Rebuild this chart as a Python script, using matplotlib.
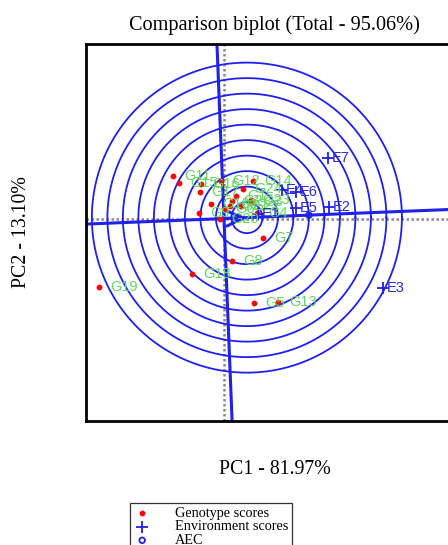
import numpy as np
import matplotlib.pyplot as plt

# genotype scores (PC1, PC2)
genotypes = ['G1', 'G2', 'G3', 'G4', 'G5', 'G6', 'G7', 'G8', 'G9', 'G10', 'G11', 'G12',
             'G13', 'G14', 'G15', 'G16', 'G17', 'G18', 'G19', 'G20', 'G21', 'G22', 'G23', 'G24']
g_pc1 = [0.39, 0.26, 0.90, 1.06, 0.97, 0.00, 1.26, 0.26, -0.81, -0.42, -1.65, -0.10,
         1.74, 0.94, -1.45, -0.74, -0.77, -1.03, -4.03, -0.13, 0.19, 0.55, 0.87, 0.61]
g_pc2 = [0.73, 0.56, 0.53, 0.18, -2.73, 0.31, -0.63, -1.37, 0.18, 0.47, 1.37, 1.21,
         -2.69, 1.21, 1.15, 1.11, 0.85, -1.79, -2.21, -0.02, 0.40, 0.40, 0.60, 0.95]

# environment scores
environments = ['E1', 'E2', 'E3', 'E4', 'E5', 'E6', 'E7']
e_pc1 = [1.10, 3.39, 5.13, 1.87, 2.32, 2.32, 3.35]
e_pc2 = [0.15, 0.37, -2.24, 0.92, 0.34, 0.85, 1.95]

# average environment coordinate and ideal genotype distance
aec = (2.74, 0.11)
ideal_dist = 0.74
ring_step = 0.5
n_rings = 10

blue = '#1f1fee'
plt.rcParams['font.family'] = ['Liberation Serif', 'DejaVu Serif']

fig = plt.figure(figsize=(4.48, 5.45), dpi=100)
ax = fig.add_axes([86 / 448, 124 / 545, 377 / 448, 377 / 545])
ax.set_xlim(-4.45, 7.71)
ax.set_ylim(-6.53, 5.63)
ax.set_aspect('equal')
ax.set_xticks([])
ax.set_yticks([])
for s in ax.spines.values():
    s.set_linewidth(2)

# dotted axes through the origin
ax.axhline(0, color='#888888', ls=(0, (1, 1)), lw=1.8, zorder=1)
ax.axvline(0, color='#888888', ls=(0, (1, 1)), lw=1.8, zorder=1)

# AEC abscissa and ordinate
u = np.array(aec) / np.hypot(*aec)
t = np.array([-20, 20])
ax.plot(t * u[0], t * u[1], color=blue, lw=2.2, zorder=2)
ax.plot(t * u[1], -t * u[0], color=blue, lw=2.2, zorder=2)

# concentric circles around the ideal genotype
ideal = u * ideal_dist
theta = np.linspace(0, 2 * np.pi, 400)
for k in range(1, n_rings + 1):
    r = k * ring_step
    ax.plot(ideal[0] + r * np.cos(theta), ideal[1] + r * np.sin(theta),
            color=blue, lw=1.3, zorder=2)

ax.annotate('', xy=ideal, xytext=(0, 0),
            arrowprops=dict(arrowstyle='->,head_length=1.2,head_width=0.55',
                            color=blue, lw=2.2, shrinkA=0, shrinkB=0), zorder=4)

# genotypes
ax.scatter(g_pc1, g_pc2, s=10, color='red', zorder=5, label='Genotype scores')
for name, x, y in zip(genotypes, g_pc1, g_pc2):
    ax.annotate(name, (x, y), xytext=(8, 0), textcoords='offset points',
                va='center', ha='left', fontsize=10.5, color='#62d662',
                family='Liberation Sans', zorder=6)

# environments
ax.scatter(e_pc1, e_pc2, s=70, marker='+', color=blue, lw=1.3, zorder=5,
           label='Environment scores')
for name, x, y in zip(environments, e_pc1, e_pc2):
    ax.annotate(name, (x, y), xytext=(3, 0), textcoords='offset points',
                va='center', ha='left', fontsize=10.5, color='#2b2bd6',
                family='Liberation Sans', zorder=6)

ax.scatter([aec[0]], [aec[1]], s=16, marker='o', facecolor='none',
           edgecolor=blue, lw=1.3, zorder=5, label='AEC')

ax.set_title('Comparison biplot (Total - 95.06%)', fontsize=14.6, pad=10)
fig.text(275 / 448, 1 - 470 / 545, 'PC1 - 81.97%', ha='center', va='center', fontsize=14.3)
fig.text(22 / 448, 1 - 232 / 545, 'PC2 - 13.10%', ha='center', va='center',
         rotation=90, fontsize=14.3)

leg = fig.legend(loc='upper left', bbox_to_anchor=(130 / 448, 1 - 503 / 545),
                 fontsize=10.3, frameon=True, fancybox=False, edgecolor='black',
                 borderpad=0.25, labelspacing=0.05, handletextpad=1.7,
                 handlelength=1.2, borderaxespad=0)
leg.get_frame().set_linewidth(0.9)

fig.savefig('out.png', dpi=100)
